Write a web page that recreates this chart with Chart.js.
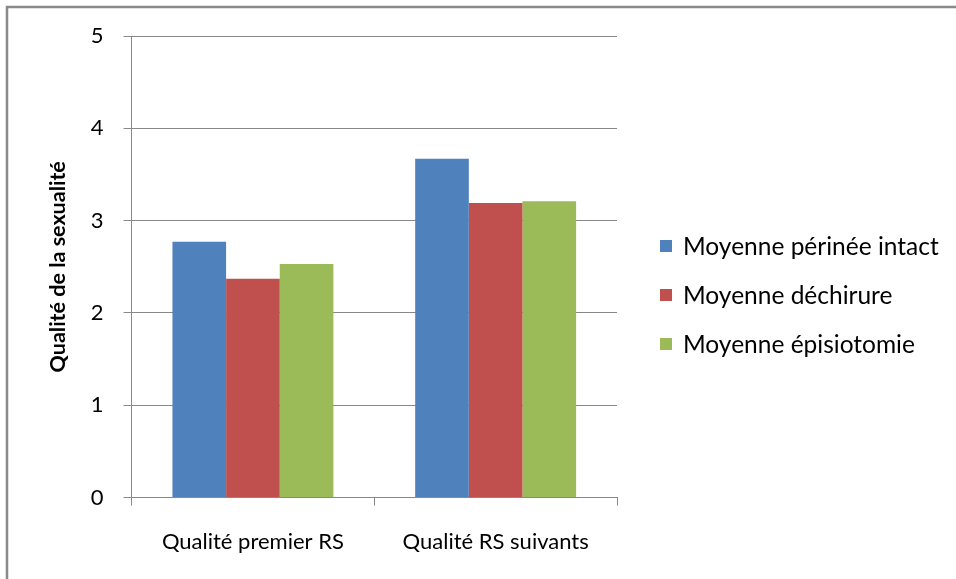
<!DOCTYPE html>
<html>
<head>
<meta charset="utf-8">
<script src="https://cdn.jsdelivr.net/npm/chart.js@4"></script>
<style>
    html, body { margin: 0; padding: 0; background: #fff; }
    #wrap { width: 956px; height: 579px; position: relative; }
</style>
</head>
<body>
<div id="wrap"><canvas id="chart" width="956" height="579"></canvas></div>
<script>
const categories = ['Qualité premier RS', 'Qualité RS suivants'];
const seriesNames = ['Moyenne périnée intact', 'Moyenne déchirure', 'Moyenne épisiotomie'];
const intact = [2.77, 3.67];
const dechirure = [2.37, 3.19];
const episiotomie = [2.53, 3.21];
const yTicks = [0, 1, 2, 3, 4, 5];

const COLORS = ['#4F81BD', '#C0504D', '#9BBB59'];
const FONT = 'Lato, "Open Sans", sans-serif';

// frame round the picture (only top and left edges are visible)
const framePlugin = {
    id: 'frame',
    afterDraw(chart) {
        const ctx = chart.ctx;
        ctx.save();
        ctx.strokeStyle = '#8a8a8a';
        ctx.lineWidth = 2.5;
        ctx.beginPath();
        ctx.moveTo(7, 579);
        ctx.lineTo(7, 7);
        ctx.lineTo(956, 7);
        ctx.stroke();
        ctx.restore();
    }
};

// legend drawn at Excel's position on the right
const legendPlugin = {
    id: 'sideLegend',
    afterDraw(chart) {
        const ctx = chart.ctx;
        ctx.save();
        ctx.font = '24.5px ' + FONT;
        ctx.textBaseline = 'middle';
        chart.data.datasets.forEach((ds, i) => {
            const y = 246 + i * 49;
            ctx.fillStyle = ds.backgroundColor;
            ctx.fillRect(660, y - 6, 12, 12);
            ctx.fillStyle = '#000';
            ctx.fillText(ds.label, 683, y + 1);
        });
        ctx.restore();
    }
};

new Chart(document.getElementById('chart'), {
    type: 'bar',
    data: {
        labels: categories,
        datasets: [intact, dechirure, episiotomie].map((d, i) => ({
            label: seriesNames[i],
            data: d,
            backgroundColor: COLORS[i],
            borderWidth: 0,
            barPercentage: 1,
            categoryPercentage: 0.663,
        }))
    },
    options: {
        responsive: false,
        animation: false,
        layout: { padding: { top: 36, right: 339, left: 45, bottom: 1 } },
        plugins: {
            legend: { display: false },
            tooltip: { enabled: false }
        },
        scales: {
            x: {
                grid: {
                    offset: true,
                    drawOnChartArea: false,
                    drawTicks: true,
                    tickLength: 8,
                    color: '#888',
                },
                border: { color: '#888', width: 1 },
                ticks: { color: '#000', font: { family: FONT, size: 22 }, padding: 23 }
            },
            y: {
                min: 0,
                max: 5,
                afterBuildTicks: s => { s.ticks = yTicks.map(v => ({ value: v })); },
                grid: { color: '#888', tickLength: 8 },
                border: { color: '#888', width: 1 },
                ticks: { color: '#000', font: { family: FONT, size: 22 }, padding: 20 },
                title: {
                    display: true,
                    text: 'Qualité de la sexualité',
                    color: '#000',
                    font: { family: FONT, size: 21.5, weight: 'bold' },
                    padding: { top: 0, bottom: 0 }
                }
            }
        }
    },
    plugins: [framePlugin, legendPlugin]
});
</script>
</body>
</html>
